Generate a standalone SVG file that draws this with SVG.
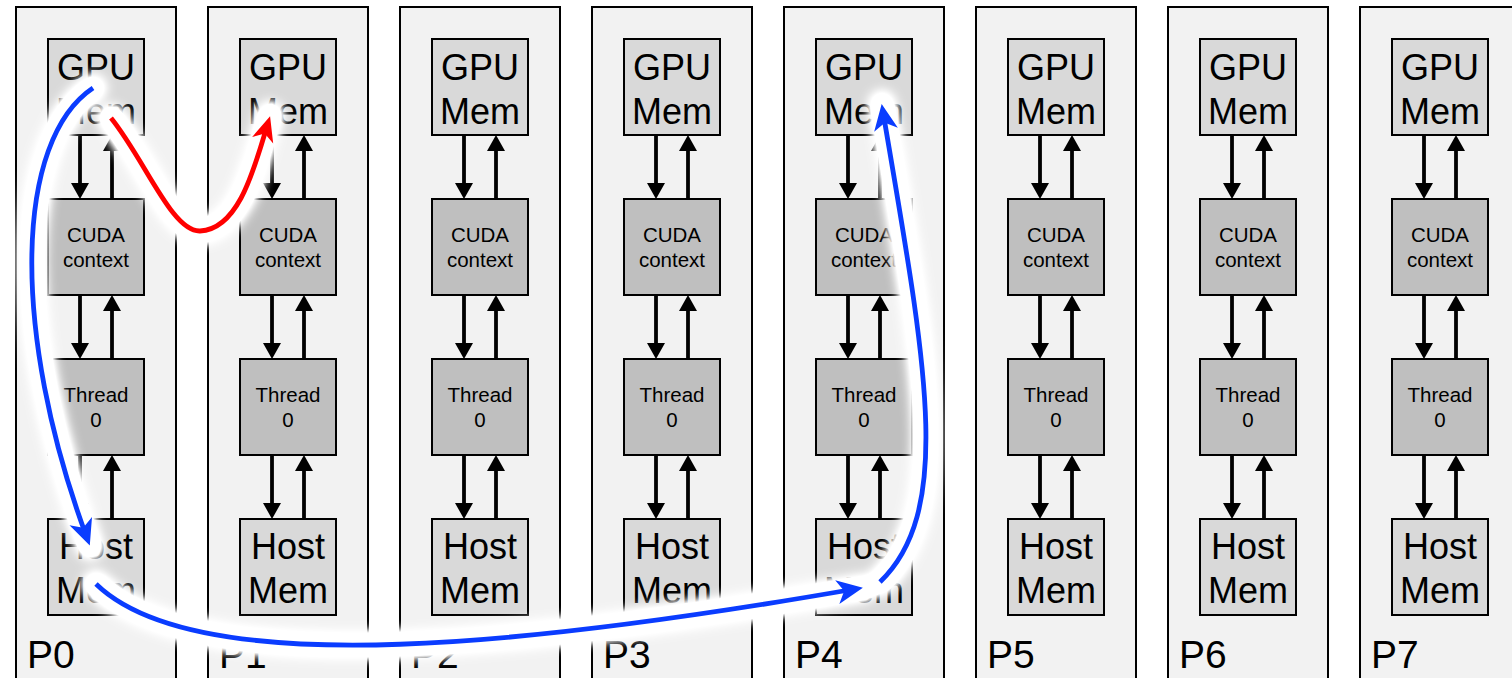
<svg xmlns="http://www.w3.org/2000/svg" width="1512" height="678" viewBox="0 0 1512 678">
<style>
.bg{fill:#ffffff}
.col{fill:#f2f2f2;stroke:#000;stroke-width:2}
.lt{fill:#d9d9d9;stroke:#000;stroke-width:2}
.dk{fill:#bfbfbf;stroke:#000;stroke-width:2}
.big{font-family:"Liberation Sans",Arial,sans-serif;font-size:36px;fill:#000;text-anchor:middle}
.sm{font-family:"Liberation Sans",Arial,sans-serif;font-size:20.5px;fill:#000;text-anchor:middle}
.lab{font-family:"Liberation Sans",Arial,sans-serif;font-size:39px;fill:#000}
.ar line{stroke:#000;stroke-width:3.8;fill:none;marker-end:url(#ah)}
.glow{stroke:#fff;stroke-width:26;fill:none;stroke-linecap:round}
.blue{stroke:#0a3cff;stroke-width:4.8;fill:none;marker-end:url(#bh)}
.red{stroke:#ff0000;stroke-width:4.8;fill:none;marker-end:url(#rh)}
</style>
<defs>
<marker id="ah" markerUnits="userSpaceOnUse" markerWidth="18" markerHeight="18" refX="5" refY="9" orient="auto" overflow="visible"><path d="M0,0 L16,9 L0,18 z" fill="#000"/></marker>
<marker id="bh" markerUnits="userSpaceOnUse" markerWidth="28" markerHeight="26" refX="18" refY="12" orient="auto" overflow="visible"><path d="M0,0 L26,12 L0,24 L7,12 z" fill="#0a3cff"/></marker>
<marker id="rh" markerUnits="userSpaceOnUse" markerWidth="28" markerHeight="26" refX="18" refY="11" orient="auto" overflow="visible"><path d="M0,0 L25,11 L0,22 L7,11 z" fill="#ff0000"/></marker>
<filter id="blur" filterUnits="userSpaceOnUse" x="0" y="0" width="1512" height="678"><feGaussianBlur stdDeviation="6"/><feComponentTransfer><feFuncA type="linear" slope="1.8"/></feComponentTransfer></filter>
</defs>
<rect class="bg" x="0" y="0" width="1512" height="678"/>

<g id="p0">
<rect class="col" x="16" y="7" width="160" height="690"/>
<g id="p0-gpu"><rect class="lt" x="48" y="39" width="96" height="96"/><text class="big" x="96" y="80">GPU</text><text class="big" x="96" y="124">Mem</text></g>
<g id="p0-cuda"><rect class="dk" x="48" y="199" width="96" height="96"/><text class="sm" x="96" y="242">CUDA</text><text class="sm" x="96" y="267">context</text></g>
<g id="p0-thread"><rect class="dk" x="48" y="359" width="96" height="96"/><text class="sm" x="96" y="402">Thread</text><text class="sm" x="96" y="427">0</text></g>
<g id="p0-host"><rect class="lt" x="48" y="519" width="96" height="96"/><text class="big" x="96" y="559">Host</text><text class="big" x="96" y="603">Mem</text></g>
<text class="lab" x="27" y="668">P0</text>
</g>

<g id="p1">
<rect class="col" x="208" y="7" width="160" height="690"/>
<g id="p1-gpu"><rect class="lt" x="240" y="39" width="96" height="96"/><text class="big" x="288" y="80">GPU</text><text class="big" x="288" y="124">Mem</text></g>
<g id="p1-cuda"><rect class="dk" x="240" y="199" width="96" height="96"/><text class="sm" x="288" y="242">CUDA</text><text class="sm" x="288" y="267">context</text></g>
<g id="p1-thread"><rect class="dk" x="240" y="359" width="96" height="96"/><text class="sm" x="288" y="402">Thread</text><text class="sm" x="288" y="427">0</text></g>
<g id="p1-host"><rect class="lt" x="240" y="519" width="96" height="96"/><text class="big" x="288" y="559">Host</text><text class="big" x="288" y="603">Mem</text></g>
<text class="lab" x="219" y="668">P1</text>
</g>

<g id="p2">
<rect class="col" x="400" y="7" width="160" height="690"/>
<g id="p2-gpu"><rect class="lt" x="432" y="39" width="96" height="96"/><text class="big" x="480" y="80">GPU</text><text class="big" x="480" y="124">Mem</text></g>
<g id="p2-cuda"><rect class="dk" x="432" y="199" width="96" height="96"/><text class="sm" x="480" y="242">CUDA</text><text class="sm" x="480" y="267">context</text></g>
<g id="p2-thread"><rect class="dk" x="432" y="359" width="96" height="96"/><text class="sm" x="480" y="402">Thread</text><text class="sm" x="480" y="427">0</text></g>
<g id="p2-host"><rect class="lt" x="432" y="519" width="96" height="96"/><text class="big" x="480" y="559">Host</text><text class="big" x="480" y="603">Mem</text></g>
<text class="lab" x="411" y="668">P2</text>
</g>

<g id="p3">
<rect class="col" x="592" y="7" width="160" height="690"/>
<g id="p3-gpu"><rect class="lt" x="624" y="39" width="96" height="96"/><text class="big" x="672" y="80">GPU</text><text class="big" x="672" y="124">Mem</text></g>
<g id="p3-cuda"><rect class="dk" x="624" y="199" width="96" height="96"/><text class="sm" x="672" y="242">CUDA</text><text class="sm" x="672" y="267">context</text></g>
<g id="p3-thread"><rect class="dk" x="624" y="359" width="96" height="96"/><text class="sm" x="672" y="402">Thread</text><text class="sm" x="672" y="427">0</text></g>
<g id="p3-host"><rect class="lt" x="624" y="519" width="96" height="96"/><text class="big" x="672" y="559">Host</text><text class="big" x="672" y="603">Mem</text></g>
<text class="lab" x="603" y="668">P3</text>
</g>

<g id="p4">
<rect class="col" x="784" y="7" width="160" height="690"/>
<g id="p4-gpu"><rect class="lt" x="816" y="39" width="96" height="96"/><text class="big" x="864" y="80">GPU</text><text class="big" x="864" y="124">Mem</text></g>
<g id="p4-cuda"><rect class="dk" x="816" y="199" width="96" height="96"/><text class="sm" x="864" y="242">CUDA</text><text class="sm" x="864" y="267">context</text></g>
<g id="p4-thread"><rect class="dk" x="816" y="359" width="96" height="96"/><text class="sm" x="864" y="402">Thread</text><text class="sm" x="864" y="427">0</text></g>
<g id="p4-host"><rect class="lt" x="816" y="519" width="96" height="96"/><text class="big" x="864" y="559">Host</text><text class="big" x="864" y="603">Mem</text></g>
<text class="lab" x="795" y="668">P4</text>
</g>

<g id="p5">
<rect class="col" x="976" y="7" width="160" height="690"/>
<g id="p5-gpu"><rect class="lt" x="1008" y="39" width="96" height="96"/><text class="big" x="1056" y="80">GPU</text><text class="big" x="1056" y="124">Mem</text></g>
<g id="p5-cuda"><rect class="dk" x="1008" y="199" width="96" height="96"/><text class="sm" x="1056" y="242">CUDA</text><text class="sm" x="1056" y="267">context</text></g>
<g id="p5-thread"><rect class="dk" x="1008" y="359" width="96" height="96"/><text class="sm" x="1056" y="402">Thread</text><text class="sm" x="1056" y="427">0</text></g>
<g id="p5-host"><rect class="lt" x="1008" y="519" width="96" height="96"/><text class="big" x="1056" y="559">Host</text><text class="big" x="1056" y="603">Mem</text></g>
<text class="lab" x="987" y="668">P5</text>
</g>

<g id="p6">
<rect class="col" x="1168" y="7" width="160" height="690"/>
<g id="p6-gpu"><rect class="lt" x="1200" y="39" width="96" height="96"/><text class="big" x="1248" y="80">GPU</text><text class="big" x="1248" y="124">Mem</text></g>
<g id="p6-cuda"><rect class="dk" x="1200" y="199" width="96" height="96"/><text class="sm" x="1248" y="242">CUDA</text><text class="sm" x="1248" y="267">context</text></g>
<g id="p6-thread"><rect class="dk" x="1200" y="359" width="96" height="96"/><text class="sm" x="1248" y="402">Thread</text><text class="sm" x="1248" y="427">0</text></g>
<g id="p6-host"><rect class="lt" x="1200" y="519" width="96" height="96"/><text class="big" x="1248" y="559">Host</text><text class="big" x="1248" y="603">Mem</text></g>
<text class="lab" x="1179" y="668">P6</text>
</g>

<g id="p7">
<rect class="col" x="1360" y="7" width="160" height="690"/>
<g id="p7-gpu"><rect class="lt" x="1392" y="39" width="96" height="96"/><text class="big" x="1440" y="80">GPU</text><text class="big" x="1440" y="124">Mem</text></g>
<g id="p7-cuda"><rect class="dk" x="1392" y="199" width="96" height="96"/><text class="sm" x="1440" y="242">CUDA</text><text class="sm" x="1440" y="267">context</text></g>
<g id="p7-thread"><rect class="dk" x="1392" y="359" width="96" height="96"/><text class="sm" x="1440" y="402">Thread</text><text class="sm" x="1440" y="427">0</text></g>
<g id="p7-host"><rect class="lt" x="1392" y="519" width="96" height="96"/><text class="big" x="1440" y="559">Host</text><text class="big" x="1440" y="603">Mem</text></g>
<text class="lab" x="1371" y="668">P7</text>
</g>

<g id="connectors">
<g id="local-arrows" class="ar">
<line x1="80" y1="136" x2="80" y2="188"/><line x1="80" y1="296" x2="80" y2="348"/><line x1="80" y1="456" x2="80" y2="508"/>
<line x1="112" y1="518" x2="112" y2="466"/><line x1="112" y1="358" x2="112" y2="306"/><line x1="112" y1="198" x2="112" y2="146"/>
<line x1="272" y1="136" x2="272" y2="188"/><line x1="272" y1="296" x2="272" y2="348"/><line x1="272" y1="456" x2="272" y2="508"/>
<line x1="304" y1="518" x2="304" y2="466"/><line x1="304" y1="358" x2="304" y2="306"/><line x1="304" y1="198" x2="304" y2="146"/>
<line x1="464" y1="136" x2="464" y2="188"/><line x1="464" y1="296" x2="464" y2="348"/><line x1="464" y1="456" x2="464" y2="508"/>
<line x1="496" y1="518" x2="496" y2="466"/><line x1="496" y1="358" x2="496" y2="306"/><line x1="496" y1="198" x2="496" y2="146"/>
<line x1="656" y1="136" x2="656" y2="188"/><line x1="656" y1="296" x2="656" y2="348"/><line x1="656" y1="456" x2="656" y2="508"/>
<line x1="688" y1="518" x2="688" y2="466"/><line x1="688" y1="358" x2="688" y2="306"/><line x1="688" y1="198" x2="688" y2="146"/>
<line x1="848" y1="136" x2="848" y2="188"/><line x1="848" y1="296" x2="848" y2="348"/><line x1="848" y1="456" x2="848" y2="508"/>
<line x1="880" y1="518" x2="880" y2="466"/><line x1="880" y1="358" x2="880" y2="306"/><line x1="880" y1="198" x2="880" y2="146"/>
<line x1="1040" y1="136" x2="1040" y2="188"/><line x1="1040" y1="296" x2="1040" y2="348"/><line x1="1040" y1="456" x2="1040" y2="508"/>
<line x1="1072" y1="518" x2="1072" y2="466"/><line x1="1072" y1="358" x2="1072" y2="306"/><line x1="1072" y1="198" x2="1072" y2="146"/>
<line x1="1232" y1="136" x2="1232" y2="188"/><line x1="1232" y1="296" x2="1232" y2="348"/><line x1="1232" y1="456" x2="1232" y2="508"/>
<line x1="1264" y1="518" x2="1264" y2="466"/><line x1="1264" y1="358" x2="1264" y2="306"/><line x1="1264" y1="198" x2="1264" y2="146"/>
<line x1="1424" y1="136" x2="1424" y2="188"/><line x1="1424" y1="296" x2="1424" y2="348"/><line x1="1424" y1="456" x2="1424" y2="508"/>
<line x1="1456" y1="518" x2="1456" y2="466"/><line x1="1456" y1="358" x2="1456" y2="306"/><line x1="1456" y1="198" x2="1456" y2="146"/>
</g>
<g id="glow" filter="url(#blur)">
<path class="glow" d="M111,118 C145,160 172,232 200,231 C240,229 255,165 270,115"/>
<path class="glow" d="M93,88 C15,140 10,330 90,546"/>
<path class="glow" d="M96,584 C200,685 550,642 863,588"/>
<path class="glow" d="M880,582 C955,510 925,360 882,104"/>
</g>
<path id="red-transfer" class="red" d="M111,118 C145,160 172,232 200,231 C240,229 255,165 268,123"/>
<path id="blue-d2h" class="blue" d="M93,88 C15,140 10,330 87,538"/>
<path id="blue-h2h" class="blue" d="M96,584 C200,685 550,642 855,589"/>
<path id="blue-h2d" class="blue" d="M880,582 C955,510 925,360 883,112"/>
</g>
</svg>
